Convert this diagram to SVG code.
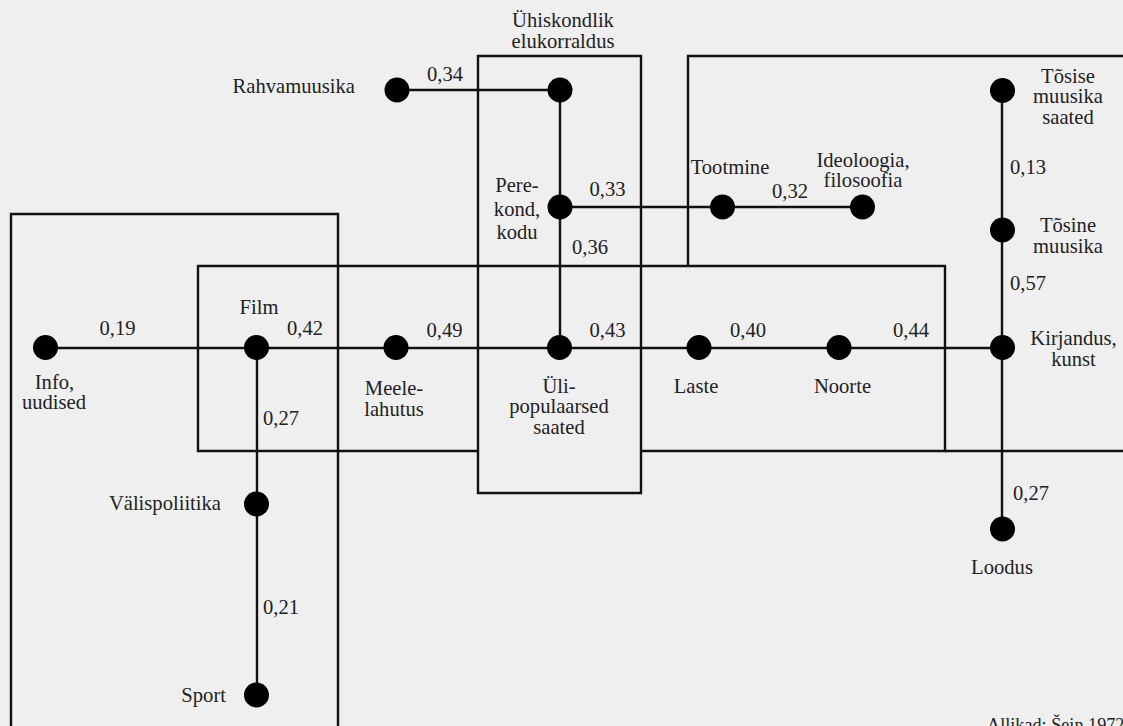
<svg xmlns="http://www.w3.org/2000/svg" width="1123" height="726" viewBox="0 0 1123 726">
<style>
.bg{fill:#efefef}
.frame{fill:none;stroke:#111;stroke-width:2.4}
.edge{fill:none;stroke:#111;stroke-width:2.4}
.dot{fill:#000}
text{font-size:20.6px;fill:#222}
.c{text-anchor:middle}
.e{text-anchor:end}
.src{font-size:18.2px}
</style>
<rect class="bg" x="0" y="0" width="1123" height="726"/>
<g id="frames">
<path class="frame" d="M11,730 V214 H338 V730"/>
<path class="frame" d="M478,451 H198 V266 H945 V451 H641"/>
<path class="frame" d="M478,56 H641 V493 H478 Z"/>
<path class="frame" d="M688,266 V56 H1127 M945,451 H1127"/>
</g>
<g font-family="Liberation Serif, DejaVu Serif, serif">
<g id="connectors">
<path class="edge" d="M397,90 H560 V348"/>
<path class="edge" d="M560,207 H862"/>
<path class="edge" d="M45,348 H1002"/>
<path class="edge" d="M257,348 V697"/>
<path class="edge" d="M1002,90 V529"/>
<text x="445" y="81" class="c">0,34</text>
<text x="607.5" y="196" class="c">0,33</text>
<text x="590" y="253.5" class="c">0,36</text>
<text x="790" y="197.5" class="c">0,32</text>
<text x="1010" y="173.5">0,13</text>
<text x="1010" y="289.5">0,57</text>
<text x="1013" y="500">0,27</text>
<text x="117.5" y="335" class="c">0,19</text>
<text x="305" y="335" class="c">0,42</text>
<text x="444.5" y="337" class="c">0,49</text>
<text x="607.5" y="337" class="c">0,43</text>
<text x="748" y="337" class="c">0,40</text>
<text x="911" y="337" class="c">0,44</text>
<text x="263" y="425">0,27</text>
<text x="263" y="613.5">0,21</text>
</g>
<g id="rahvamuusika"><circle class="dot" cx="397" cy="90" r="12.5"/><text x="355" y="93" class="e">Rahvamuusika</text></g>
<g id="uhiskondlik"><circle class="dot" cx="560" cy="90" r="12.5"/><text x="563" y="27" class="c">Ühiskondlik<tspan x="563" dy="21">elukorraldus</tspan></text></g>
<g id="perekond"><circle class="dot" cx="560" cy="207" r="12.5"/><text x="517" y="192" class="c">Pere-<tspan x="517" dy="23.5">kond,</tspan><tspan x="517" dy="23.5">kodu</tspan></text></g>
<g id="tootmine"><circle class="dot" cx="722.5" cy="207" r="12.5"/><text x="730" y="173.5" class="c">Tootmine</text></g>
<g id="ideoloogia"><circle class="dot" cx="862.5" cy="207" r="12.5"/><text x="863" y="166.5" class="c">Ideoloogia,<tspan x="863" dy="20.5">filosoofia</tspan></text></g>
<g id="tosise"><circle class="dot" cx="1002.5" cy="90.5" r="12.5"/><text x="1068" y="82.5" class="c">Tõsise<tspan x="1068" dy="20.5">muusika</tspan><tspan x="1068" dy="20.5">saated</tspan></text></g>
<g id="tosine"><circle class="dot" cx="1002.5" cy="230" r="12.5"/><text x="1068" y="232" class="c">Tõsine<tspan x="1068" dy="20.5">muusika</tspan></text></g>
<g id="kirjandus"><circle class="dot" cx="1002.5" cy="347.5" r="12.5"/><text x="1073.5" y="345" class="c">Kirjandus,<tspan x="1073.5" dy="20.5">kunst</tspan></text></g>
<g id="loodus"><circle class="dot" cx="1002.5" cy="529" r="12.5"/><text x="1002" y="574" class="c">Loodus</text></g>
<g id="info"><circle class="dot" cx="45.5" cy="347.5" r="12.5"/><text x="54.5" y="388.5" class="c">Info,<tspan x="54" dy="20.5">uudised</tspan></text></g>
<g id="film"><circle class="dot" cx="256.5" cy="347.5" r="12.5"/><text x="259" y="313.5" class="c">Film</text></g>
<g id="meelelahutus"><circle class="dot" cx="396" cy="347.5" r="12.5"/><text x="394" y="395" class="c">Meele-<tspan x="394" dy="20.5">lahutus</tspan></text></g>
<g id="ulipopulaarsed"><circle class="dot" cx="559.5" cy="347.5" r="12.5"/><text x="559" y="392.5" class="c">Üli-<tspan x="559" dy="20.5">populaarsed</tspan><tspan x="559" dy="20.5">saated</tspan></text></g>
<g id="laste"><circle class="dot" cx="699" cy="347.5" r="12.5"/><text x="696" y="392.5" class="c">Laste</text></g>
<g id="noorte"><circle class="dot" cx="839" cy="347.5" r="12.5"/><text x="842.5" y="393" class="c">Noorte</text></g>
<g id="valispoliitika"><circle class="dot" cx="256.5" cy="504" r="12.5"/><text x="221" y="510" class="e">Välispoliitika</text></g>
<g id="sport"><circle class="dot" cx="256.5" cy="695" r="12.5"/><text x="226" y="702" class="e">Sport</text></g>
<text x="987" y="730.5" class="src">Allikad: Šein 1972</text>
</g>
</svg>
